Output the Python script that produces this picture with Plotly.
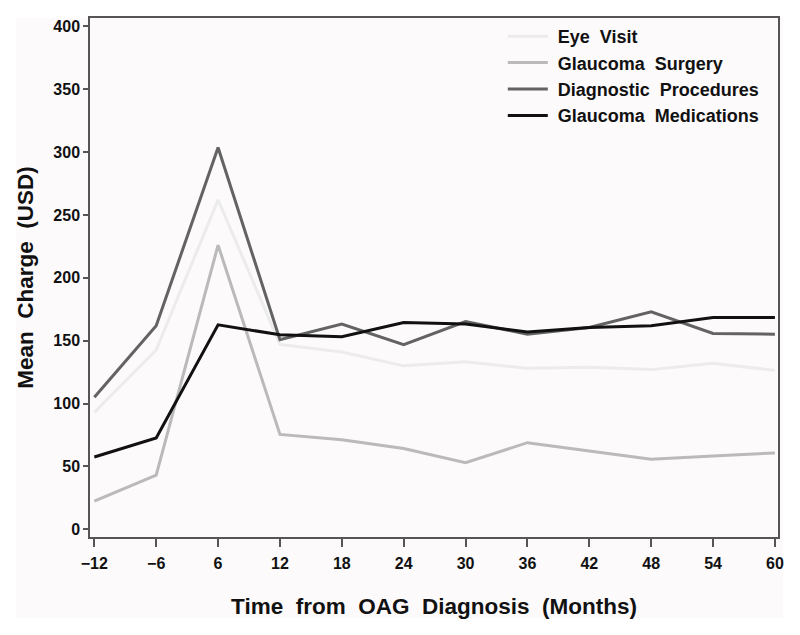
import plotly.graph_objects as go

months = [-12, -6, 6, 12, 18, 24, 30, 36, 42, 48, 54, 60]
tick_labels = ["\u221212", "\u22126", "6", "12", "18", "24", "30", "36", "42", "48", "54", "60"]

eye_visit = [93, 142.6, 262, 147, 141, 130, 133.3, 128, 128.8, 127, 132, 126.4]
glaucoma_surgery = [22.4, 43, 226, 75.5, 71.3, 64.2, 53, 68.9, 62.3, 55.7, 58.3, 60.7]
diagnostic_procedures = [105, 161.8, 303.6, 150.7, 163.2, 146.8, 165.2, 155.2, 160.5, 172.9, 155.7, 155.2]
glaucoma_medications = [57.5, 72.6, 162.6, 154.7, 153.1, 164.4, 163.2, 157, 160.5, 161.8, 168.4, 168.4]

series = [
    ("Eye Visit", eye_visit, "#ececec"),
    ("Glaucoma Surgery", glaucoma_surgery, "#bababa"),
    ("Diagnostic Procedures", diagnostic_procedures, "#636363"),
    ("Glaucoma Medications", glaucoma_medications, "#111111"),
]

FONT = "Liberation Sans, Arial, Helvetica, sans-serif"


def wide(text):
    # the reference uses extra space between words
    return text.replace(" ", "\u00a0 ")


fig = go.Figure()
for name, vals, color in series:
    fig.add_trace(go.Scatter(
        x=tick_labels, y=vals, mode="lines", name="\u00a0" + wide(name),
        line=dict(color=color, width=3),
    ))

fig.update_layout(
    width=800, height=635,
    margin=dict(l=82, r=30, t=8, b=106),
    paper_bgcolor="white",
    plot_bgcolor="#fcfafb",
    font=dict(family=FONT, color="#111111"),
    showlegend=True,
    legend=dict(
        x=0.600, y=1.0, xanchor="left", yanchor="top",
        bgcolor="rgba(0,0,0,0)", borderwidth=0,
        font=dict(size=18, family=FONT, color="#111111", weight="bold"),
        itemwidth=40,
    ),
    shapes=[dict(
        type="rect", xref="paper", yref="paper",
        x0=-0.1076, x1=1.0073, y0=-0.1555, y1=1.0,
        fillcolor="#fcfafb", line=dict(width=0), layer="below",
    )],
)

fig.update_xaxes(
    type="category", categoryorder="array", categoryarray=tick_labels,
    range=[-0.07, 11.05],
    showline=True, mirror=True, linecolor="#555555", linewidth=1.5,
    ticks="outside", ticklen=8, tickwidth=1.5, tickcolor="#555555",
    ticklabelstandoff=3,
    showgrid=False, zeroline=False,
    tickfont=dict(size=16, family=FONT, color="#111111", weight="bold"),
    title=dict(text=wide("Time from OAG Diagnosis (Months)"), standoff=27,
               font=dict(size=22.5, family=FONT, color="#111111", weight="bold")),
)
fig.update_yaxes(
    range=[-6.1, 406.6],
    tickvals=[0, 50, 100, 150, 200, 250, 300, 350, 400],
    showline=True, mirror=True, linecolor="#555555", linewidth=1.5,
    ticks="outside", ticklen=5, tickwidth=1.5, tickcolor="#555555",
    showgrid=False, zeroline=False,
    tickfont=dict(size=16, family=FONT, color="#111111", weight="bold"),
    title=dict(text=wide("Mean Charge (USD)"), standoff=13,
               font=dict(size=22.5, family=FONT, color="#111111", weight="bold")),
)

fig.write_html("out.html")
